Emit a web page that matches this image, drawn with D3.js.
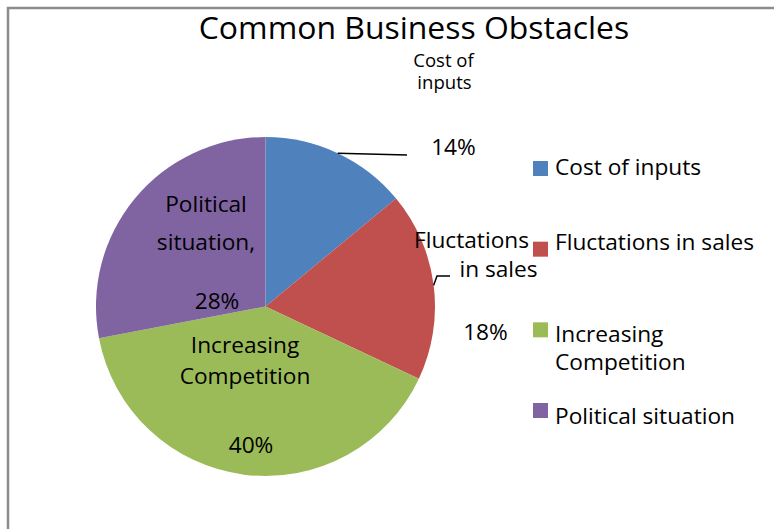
<!DOCTYPE html>
<html>
<head>
<meta charset="utf-8">
<script src="https://cdn.jsdelivr.net/npm/d3@7"></script>
<style>
  body { margin: 0; background: #fff; }
  svg { display: block; font-family: "Open Sans", sans-serif; font-variant-ligatures: none; }
</style>
</head>
<body>
<svg id="svg" width="774" height="529"></svg>
<script>
const title = 'Common Business Obstacles';
const categories = ['Cost of inputs', 'Fluctations in sales', 'Increasing Competition', 'Political situation'];
const values = [14, 18, 40, 28];
const colors = ['#4f81bd', '#c0504d', '#9bbb59', '#8064a2'];
const legendLines = [['Cost of inputs'], ['Fluctations in sales'], ['Increasing', 'Competition'], ['Political situation']];
const nameLines = [['Cost of', 'inputs'], ['Fluctations', 'in sales'], ['Increasing', 'Competition'], ['Political', 'situation,']];

// hand placed label spots (like the excel chart), relative to pie centre
const labelSpots = [
  { name: [[178, -240], [179, -217.5]], pct: [188, -151.5], size: 18, line: [[141.5, -151.5]] },
  { name: [[206, -58.5], [233, -29.5]], pct: [220, 33.5], size: 22, line: [[171.5, -30.5], [184.5, -30.5]] },
  { name: [[-20.5, 46.5], [-20.5, 77.5]], pct: [-14.5, 146.5], size: 22 },
  { name: [[-59.5, -94.5], [-59.5, -56.5]], pct: [-48.5, 2.5], size: 22 }
];
const legendBase = [[175], [250], [342, 370], [424]];

// the source font runs a little wider than Open Sans
const stretch = 1.03;

window.onload = function() {
  const svg = d3.select('#svg');
  const cx = 265.5, cy = 306.5, r = 169.5;

  // chart frame
  svg.append('path')
    .attr('d', 'M8,529 V8 H774')
    .attr('fill', 'none')
    .attr('stroke', '#8c8c8c')
    .attr('stroke-width', 2.5);

  svg.append('text')
    .attr('x', 414)
    .attr('y', 38.5)
    .attr('text-anchor', 'middle')
    .style('font-size', '31px')
    .text(title);

  const pie = d3.pie().sort(null).value(d => d)(values);
  const arc = d3.arc().innerRadius(0).outerRadius(r);
  const g = svg.append('g').attr('transform', 'translate(' + cx + ',' + cy + ')');

  g.selectAll('path.slice')
    .data(pie)
    .enter()
    .append('path')
    .classed('slice', true)
    .attr('d', arc)
    .attr('fill', (d, i) => colors[i]);

  // leader lines from the slice edge at mid angle
  pie.forEach((d, i) => {
    const spot = labelSpots[i];
    if (!spot.line) return;
    const a = (d.startAngle + d.endAngle) / 2;
    const pts = [[r * Math.sin(a), -r * Math.cos(a)]].concat(spot.line);
    g.append('path')
      .attr('d', d3.line()(pts))
      .attr('fill', 'none')
      .attr('stroke', '#000')
      .attr('stroke-width', 1.5);
  });

  const labels = g.append('g').classed('labels', true);
  pie.forEach((d, i) => {
    const spot = labelSpots[i];
    const name = labels.append('text')
      .attr('text-anchor', 'middle')
      .style('font-size', spot.size + 'px');
    nameLines[i].forEach((t, j) => {
      name.append('tspan')
        .attr('x', spot.name[j][0])
        .attr('y', spot.name[j][1])
        .text(t);
    });
    labels.append('text')
      .attr('x', spot.pct[0])
      .attr('y', spot.pct[1])
      .attr('text-anchor', 'middle')
      .style('font-size', '22px')
      .text(d3.format('.0%')(d.value / 100));
  });

  // legend
  const legendY = d3.scalePoint().domain(categories).range([161, 403]);
  const legend = svg.append('g').classed('legend', true);
  categories.forEach((c, i) => {
    legend.append('rect')
      .attr('x', 533)
      .attr('y', legendY(c))
      .attr('width', 15)
      .attr('height', 15)
      .attr('fill', colors[i]);
    const txt = legend.append('text').style('font-size', '22px');
    legendLines[i].forEach((t, j) => {
      txt.append('tspan')
        .attr('x', 555)
        .attr('y', legendBase[i][j])
        .text(t);
    });
  });

  // widen each line a touch to match the source font
  svg.selectAll('text').each(function() {
    const el = d3.select(this);
    const parts = el.selectAll('tspan').size() ? el.selectAll('tspan') : el;
    parts.each(function() {
      const w = this.getComputedTextLength();
      d3.select(this)
        .attr('textLength', w * stretch)
        .attr('lengthAdjust', 'spacingAndGlyphs');
    });
  });
};
</script>
</body>
</html>
